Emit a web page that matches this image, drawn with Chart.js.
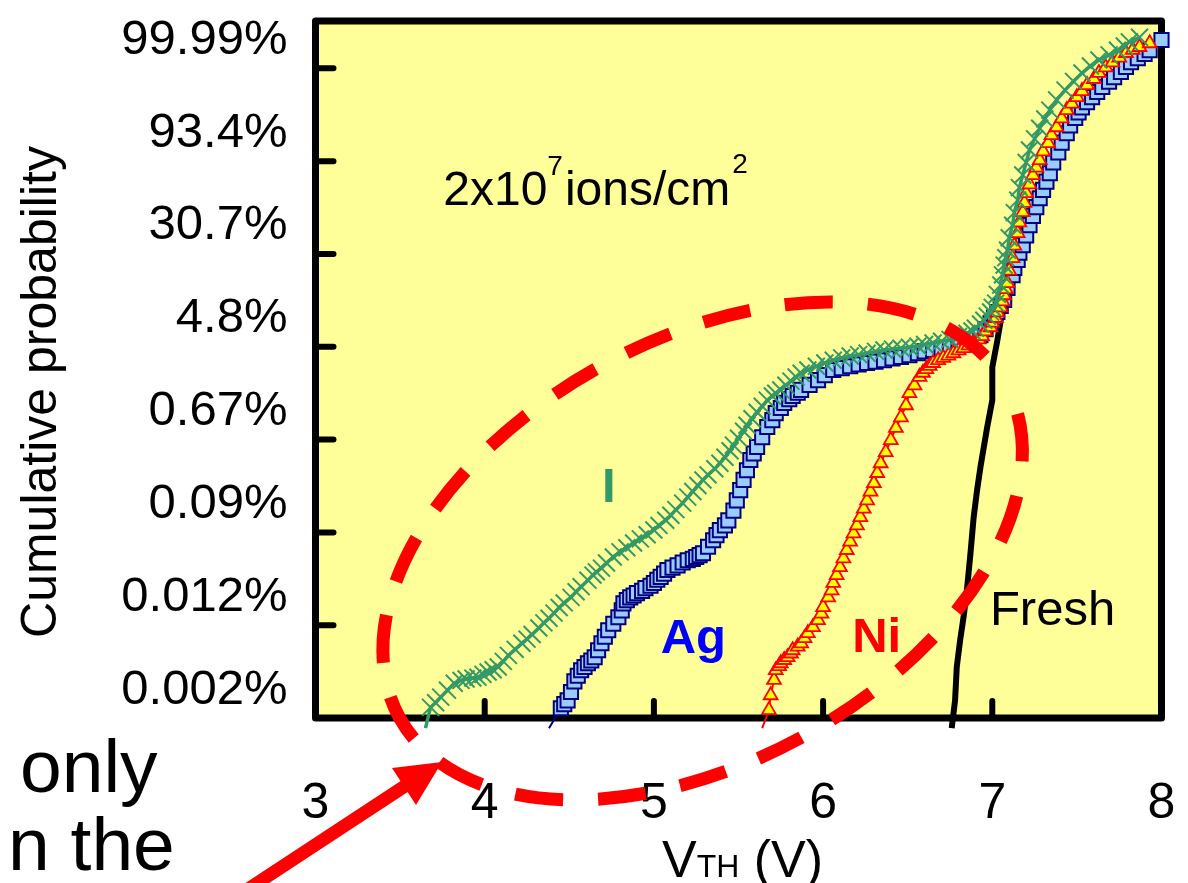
<!DOCTYPE html>
<html>
<head>
<meta charset="utf-8">
<script src="https://cdn.jsdelivr.net/npm/chart.js@4.4.1/dist/chart.umd.min.js"></script>
<style>
  html, body { margin: 0; padding: 0; background: #fff; }
  canvas { display: block; }
</style>
</head>
<body>
<canvas id="myChart" width="1188" height="883"></canvas>
<script>
// V_TH (V) and cumulative probability on a Weibull scale, ln(-ln(1-F))
var iV = [3.65, 3.68, 3.71, 3.74, 3.78, 3.82, 3.86, 3.89, 3.93, 3.96,
  3.99, 4.02, 4.05, 4.08, 4.11, 4.14, 4.18, 4.22, 4.25, 4.28,
  4.32, 4.35, 4.38, 4.41, 4.44, 4.47, 4.51, 4.54, 4.57, 4.61,
  4.64, 4.66, 4.69, 4.72, 4.76, 4.80, 4.84, 4.88, 4.92, 4.96,
  5.00, 5.03, 5.07, 5.10, 5.13, 5.17, 5.20, 5.23, 5.26, 5.29,
  5.32, 5.36, 5.39, 5.42, 5.45, 5.47, 5.50, 5.53, 5.55, 5.58,
  5.61, 5.64, 5.67, 5.70, 5.72, 5.75, 5.78, 5.81, 5.84, 5.87,
  5.91, 5.96, 6.01, 6.06, 6.11, 6.16, 6.21, 6.26, 6.31, 6.36,
  6.41, 6.46, 6.51, 6.56, 6.60, 6.65, 6.70, 6.75, 6.80, 6.85,
  6.88, 6.90, 6.93, 6.95, 6.97, 6.99, 7.00, 7.02, 7.03, 7.05,
  7.06, 7.07, 7.08, 7.09, 7.10, 7.12, 7.13, 7.15, 7.16, 7.18,
  7.20, 7.22, 7.25, 7.28, 7.31, 7.34, 7.38, 7.43, 7.48, 7.53,
  7.58, 7.63, 7.69, 7.74, 7.78, 7.81, 7.87];
var iW = [-11.82, -11.37, -11.27, -11.15, -11.00, -10.85, -10.79, -10.76, -10.74, -10.72,
  -10.66, -10.61, -10.56, -10.50, -10.38, -10.25, -10.12, -9.99, -9.90, -9.80,
  -9.66, -9.55, -9.45, -9.34, -9.22, -9.12, -9.00, -8.88, -8.77, -8.63,
  -8.52, -8.45, -8.37, -8.26, -8.13, -8.02, -7.93, -7.83, -7.74, -7.65,
  -7.55, -7.45, -7.34, -7.23, -7.11, -6.97, -6.84, -6.72, -6.59, -6.47,
  -6.36, -6.23, -6.11, -5.98, -5.84, -5.72, -5.57, -5.42, -5.29, -5.15,
  -5.01, -4.88, -4.75, -4.66, -4.60, -4.53, -4.43, -4.34, -4.25, -4.17,
  -4.10, -4.02, -3.95, -3.89, -3.84, -3.80, -3.77, -3.74, -3.70, -3.67,
  -3.65, -3.63, -3.61, -3.59, -3.55, -3.52, -3.48, -3.44, -3.38, -3.31,
  -3.26, -3.20, -3.11, -3.03, -2.94, -2.85, -2.75, -2.66, -2.47, -2.27,
  -2.05, -1.84, -1.68, -1.52, -1.25, -0.98, -0.71, -0.44, -0.17, 0.10,
  0.37, 0.64, 0.88, 1.11, 1.31, 1.50, 1.72, 1.93, 2.12, 2.30,
  2.45, 2.58, 2.69, 2.79, 2.88, 2.97, 3.07];

var agV = [4.38, 4.45, 4.47, 4.49, 4.51, 4.53, 4.55, 4.57, 4.59, 4.61,
  4.63, 4.65, 4.67, 4.69, 4.71, 4.73, 4.76, 4.79, 4.81, 4.82,
  4.84, 4.86, 4.88, 4.90, 4.93, 4.95, 4.98, 5.00, 5.02, 5.04,
  5.06, 5.08, 5.11, 5.14, 5.17, 5.20, 5.23, 5.25, 5.27, 5.29,
  5.32, 5.35, 5.37, 5.39, 5.42, 5.44, 5.47, 5.49, 5.51, 5.53,
  5.55, 5.57, 5.59, 5.61, 5.64, 5.67, 5.70, 5.72, 5.75, 5.77,
  5.80, 5.82, 5.85, 5.87, 5.92, 5.97, 6.01, 6.06, 6.11, 6.16,
  6.21, 6.26, 6.31, 6.36, 6.41, 6.46, 6.51, 6.56, 6.60, 6.65,
  6.70, 6.75, 6.80, 6.85, 6.89, 6.93, 6.96, 6.99, 7.01, 7.03,
  7.05, 7.07, 7.09, 7.12, 7.13, 7.15, 7.16, 7.18, 7.20, 7.22,
  7.24, 7.26, 7.28, 7.30, 7.32, 7.34, 7.36, 7.39, 7.41, 7.44,
  7.46, 7.49, 7.51, 7.53, 7.56, 7.59, 7.62, 7.65, 7.69, 7.72,
  7.76, 7.79, 7.82, 7.86, 7.90, 7.93, 8.00];
var agW = [-11.82, -11.39, -11.30, -11.22, -11.04, -10.81, -10.69, -10.57, -10.50, -10.42,
  -10.36, -10.29, -10.14, -9.99, -9.85, -9.71, -9.57, -9.43, -9.28, -9.13,
  -9.06, -9.00, -8.96, -8.91, -8.86, -8.80, -8.75, -8.69, -8.62, -8.56,
  -8.49, -8.41, -8.36, -8.31, -8.25, -8.20, -8.17, -8.13, -8.09, -8.05,
  -7.91, -7.77, -7.66, -7.55, -7.45, -7.34, -7.13, -6.91, -6.69, -6.47,
  -6.26, -6.04, -5.90, -5.76, -5.55, -5.33, -5.18, -5.03, -4.92, -4.81,
  -4.73, -4.66, -4.59, -4.53, -4.42, -4.32, -4.21, -4.10, -4.06, -4.02,
  -3.98, -3.95, -3.92, -3.89, -3.85, -3.82, -3.78, -3.74, -3.70, -3.67,
  -3.64, -3.61, -3.57, -3.52, -3.44, -3.35, -3.22, -3.09, -2.97, -2.85,
  -2.72, -2.59, -2.33, -2.06, -1.90, -1.73, -1.57, -1.41, -1.20, -0.98,
  -0.78, -0.59, -0.40, -0.22, -0.04, 0.14, 0.37, 0.59, 0.80, 1.00,
  1.17, 1.33, 1.45, 1.56, 1.67, 1.78, 1.89, 2.00, 2.11, 2.21,
  2.32, 2.43, 2.53, 2.62, 2.71, 2.79, 3.01];

var niV = [5.64, 5.68, 5.69, 5.71, 5.72, 5.74, 5.75, 5.77, 5.79, 5.81,
  5.82, 5.85, 5.87, 5.89, 5.91, 5.94, 5.97, 5.99, 6.00, 6.03,
  6.05, 6.06, 6.08, 6.10, 6.12, 6.14, 6.16, 6.18, 6.20, 6.22,
  6.24, 6.26, 6.28, 6.30, 6.32, 6.34, 6.37, 6.40, 6.43, 6.46,
  6.49, 6.51, 6.54, 6.57, 6.59, 6.61, 6.63, 6.65, 6.68, 6.71,
  6.74, 6.77, 6.80, 6.83, 6.86, 6.89, 6.92, 6.94, 6.96, 6.99,
  7.00, 7.02, 7.03, 7.05, 7.06, 7.07, 7.08, 7.09, 7.10, 7.12,
  7.13, 7.15, 7.16, 7.18, 7.19, 7.20, 7.22, 7.24, 7.26, 7.28,
  7.30, 7.33, 7.35, 7.38, 7.41, 7.44, 7.47, 7.50, 7.53, 7.56,
  7.60, 7.63, 7.67, 7.71, 7.75, 7.79, 7.83, 7.87, 7.93];
var niW = [-11.82, -11.43, -11.11, -10.78, -10.57, -10.48, -10.42, -10.35, -10.29, -10.21,
  -10.14, -10.06, -9.99, -9.88, -9.77, -9.64, -9.49, -9.35, -9.21, -9.00,
  -8.85, -8.69, -8.52, -8.35, -8.16, -7.98, -7.80, -7.62, -7.45, -7.27,
  -7.09, -6.91, -6.72, -6.54, -6.32, -6.11, -5.87, -5.61, -5.35, -5.12,
  -4.86, -4.60, -4.43, -4.25, -4.16, -4.08, -4.01, -3.95, -3.89, -3.84,
  -3.79, -3.74, -3.68, -3.63, -3.57, -3.52, -3.44, -3.37, -3.27, -3.18,
  -3.08, -2.98, -2.86, -2.75, -2.62, -2.49, -2.36, -2.23, -1.96, -1.69,
  -1.42, -1.15, -0.92, -0.70, -0.50, -0.29, -0.10, 0.10, 0.26, 0.42,
  0.61, 0.79, 0.96, 1.13, 1.32, 1.50, 1.64, 1.78, 1.91, 2.04,
  2.17, 2.30, 2.42, 2.53, 2.63, 2.73, 2.80, 2.86, 2.94];

var freshV = [6.76, 6.78, 6.79, 6.81, 6.83, 6.85, 6.87, 6.89, 6.91, 6.93, 6.97, 7.00, 7.00, 7.00, 7.03, 7.05, 7.07];
var freshW = [-11.82, -11.22, -10.50, -9.92, -9.43, -8.84, -8.09, -7.27, -6.69, -6.19, -5.33, -4.75, -4.32, -4.04, -3.46, -3.03, -2.59];

// axes
var yTickVals = [-11.6, -9.6, -7.6, -5.6, -3.6, -1.6, 0.4, 2.4];
var yLabels = ["0.002%", "0.012%", "0.09%", "0.67%", "4.8%", "30.7%", "93.4%", "99.99%"];
var xMin = 3, xMax = 8;
var yMin = -11.6, yMax = 3.42;

// text labels inside the plot (V, W)
var seriesLabels = [
  { text: "I", v: 4.733, w: -6.95, color: "#339966", bold: true, align: "center" },
  { text: "Ag", v: 5.04, w: -10.2, color: "#0000FF", bold: true, align: "left" },
  { text: "Ni", v: 6.172, w: -10.18, color: "#FF0000", bold: true, align: "left" },
  { text: "Fresh", v: 6.986, w: -9.6, color: "#000000", bold: false, align: "left" }
];
var fluence = { base: "2x10", exp: "7", unit: "ions/cm", unitExp: "2", v: 3.755, w: -0.55 };
var ring = { v: 5.288, w: -8.0 };

var FONT = "'Liberation Sans', Arial, sans-serif";

function pts(vs, ws) {
  return vs.map(function (v, k) { return { x: v, y: ws[k] }; });
}
function noFirst(r) {
  return function (ctx) { return ctx.dataIndex === 0 ? 0 : r; };
}

var decor = {
  id: "decor",
  beforeDraw: function (chart) {
    var c = chart.ctx, a = chart.chartArea;
    c.save();
    c.fillStyle = "#ffffff";
    c.fillRect(0, 0, chart.width, chart.height);
    c.fillStyle = "#FFFF99";
    c.fillRect(a.left, a.top, a.right - a.left, a.bottom - a.top);
    c.restore();
  },
  beforeDatasetsDraw: function (chart) {
    var c = chart.ctx, a = chart.chartArea;
    var xs = chart.scales.x, ys = chart.scales.y;
    c.save();
    c.strokeStyle = "#000";
    c.lineWidth = 7;
    c.lineJoin = "round";
    c.strokeRect(a.left, a.top, a.right - a.left, a.bottom - a.top);
    c.lineCap = "round";
    c.lineWidth = 6;
    c.beginPath();
    ys.ticks.forEach(function (t) {
      var p = ys.getPixelForValue(t.value);
      if (p < a.bottom - 2) { c.moveTo(a.left, p); c.lineTo(a.left + 18, p); }
    });
    xs.ticks.forEach(function (t) {
      var p = xs.getPixelForValue(t.value);
      if (p > a.left + 2 && p < a.right - 2) { c.moveTo(p, a.bottom); c.lineTo(p, a.bottom - 17); }
    });
    c.stroke();
    c.restore();
  },
  afterDatasetsDraw: function (chart) {
    var c = chart.ctx;
    var xs = chart.scales.x, ys = chart.scales.y;
    c.save();
    seriesLabels.forEach(function (l) {
      c.font = (l.bold ? "bold " : "") + "49px " + FONT;
      c.fillStyle = l.color;
      c.textAlign = l.align;
      c.textBaseline = "alphabetic";
      c.fillText(l.text, xs.getPixelForValue(l.v), ys.getPixelForValue(l.w));
    });

    // fluence note with superscripts
    var x = xs.getPixelForValue(fluence.v), y = ys.getPixelForValue(fluence.w);
    c.fillStyle = "#000";
    c.textAlign = "left";
    c.font = "48px " + FONT;
    c.fillText(fluence.base, x, y);
    x += c.measureText(fluence.base).width;
    c.font = "28px " + FONT;
    c.fillText(fluence.exp, x, y - 30);
    x += c.measureText(fluence.exp).width + 2;
    c.font = "48px " + FONT;
    c.fillText(fluence.unit, x, y);
    x += c.measureText(fluence.unit).width + 2;
    c.font = "28px " + FONT;
    c.fillText(fluence.unitExp, x, y - 32);

    // dashed red ring
    c.strokeStyle = "#FF0000";
    c.lineWidth = 13;
    c.setLineDash([48, 35]);
    c.lineDashOffset = 51;
    c.beginPath();
    c.ellipse(xs.getPixelForValue(ring.v), ys.getPixelForValue(ring.w), 346, 211, -28.8 * Math.PI / 180, 0, 2 * Math.PI);
    c.stroke();
    c.restore();
  },
  afterDraw: function (chart) {
    var c = chart.ctx;
    c.save();
    c.fillStyle = "#000";
    // y title
    c.save();
    c.translate(56, 392);
    c.rotate(-Math.PI / 2);
    c.font = "50px " + FONT;
    c.textAlign = "center";
    c.textBaseline = "alphabetic";
    c.fillText("Cumulative probability", 0, 0);
    c.restore();

    // x title V_TH (V)
    c.textAlign = "left";
    c.textBaseline = "alphabetic";
    var tx = 662, ty = 877;
    c.font = "52px " + FONT;
    c.fillText("V", tx, ty);
    tx += c.measureText("V").width;
    c.font = "32px " + FONT;
    c.fillText("TH", tx, ty);
    tx += c.measureText("TH").width;
    c.font = "52px " + FONT;
    c.fillText(" (V)", tx, ty);

    // slide text cut at the left edge
    c.font = "75px " + FONT;
    c.fillText("only", 20, 792);
    c.fillText("n the", 8, 870);

    // red arrow
    c.strokeStyle = "#FF0000";
    c.fillStyle = "#FF0000";
    c.lineWidth = 13;
    c.beginPath();
    c.moveTo(236, 897);
    c.lineTo(408, 784);
    c.stroke();
    c.beginPath();
    c.moveTo(442, 762);
    c.lineTo(416, 805);
    c.lineTo(392, 768);
    c.closePath();
    c.fill();
    c.restore();
  }
};

var bottomClip = { left: 10, top: 10, right: 10, bottom: 14 };

var chart = new Chart(document.getElementById("myChart").getContext("2d"), {
  type: "line",
  data: {
    datasets: [
      {
        label: "I",
        data: pts(iV, iW),
        borderColor: "#339966",
        borderWidth: 3.5,
        pointStyle: "crossRot",
        pointRadius: noFirst(12),
        pointBorderColor: "#339966",
        pointBackgroundColor: "#339966",
        pointBorderWidth: 2,
        clip: bottomClip
      },
      {
        label: "Ni",
        data: pts(niV, niW),
        borderColor: "#FF0000",
        borderWidth: 2,
        pointStyle: "triangle",
        pointRadius: noFirst(8),
        pointBorderColor: "#FF0000",
        pointBackgroundColor: "#FFFF00",
        pointBorderWidth: 1.8,
        clip: bottomClip
      },
      {
        label: "Ag",
        data: pts(agV, agW),
        borderColor: "#000080",
        borderWidth: 2,
        pointStyle: "rect",
        pointRadius: noFirst(10),
        pointBorderColor: "#000080",
        pointBackgroundColor: "#99CCFF",
        pointBorderWidth: 2,
        clip: bottomClip
      },
      {
        label: "Fresh",
        data: pts(freshV, freshW),
        borderColor: "#000000",
        borderWidth: 6,
        pointRadius: 0,
        clip: bottomClip
      }
    ]
  },
  options: {
    responsive: false,
    animation: false,
    devicePixelRatio: 1,
    layout: { padding: { left: 0, top: 21, right: 26.5, bottom: 0 } },
    elements: { line: { tension: 0 } },
    plugins: { legend: { display: false }, tooltip: { enabled: false } },
    scales: {
      x: {
        type: "linear",
        min: xMin,
        max: xMax,
        grid: { display: false, drawTicks: false },
        border: { display: false },
        ticks: {
          stepSize: 1,
          color: "#000",
          padding: 56,
          font: { family: FONT, size: 50 }
        },
        afterFit: function (s) {
          s.height = 165;
          s.paddingLeft = 0;
          s.paddingRight = 0;
        }
      },
      y: {
        type: "linear",
        min: yMin,
        max: yMax,
        grid: { display: false, drawTicks: false },
        border: { display: false },
        afterBuildTicks: function (s) {
          s.ticks = yTickVals.map(function (v) { return { value: v }; });
        },
        ticks: {
          autoSkip: false,
          color: "#000",
          padding: 28,
          labelOffset: -28,
          font: { family: FONT, size: 49 },
          callback: function (value, index) { return yLabels[index]; }
        },
        afterFit: function (s) {
          s.width = 315.5;
          s.paddingTop = 0;
          s.paddingBottom = 0;
        }
      }
    }
  },
  plugins: [decor]
});
</script>
</body>
</html>
